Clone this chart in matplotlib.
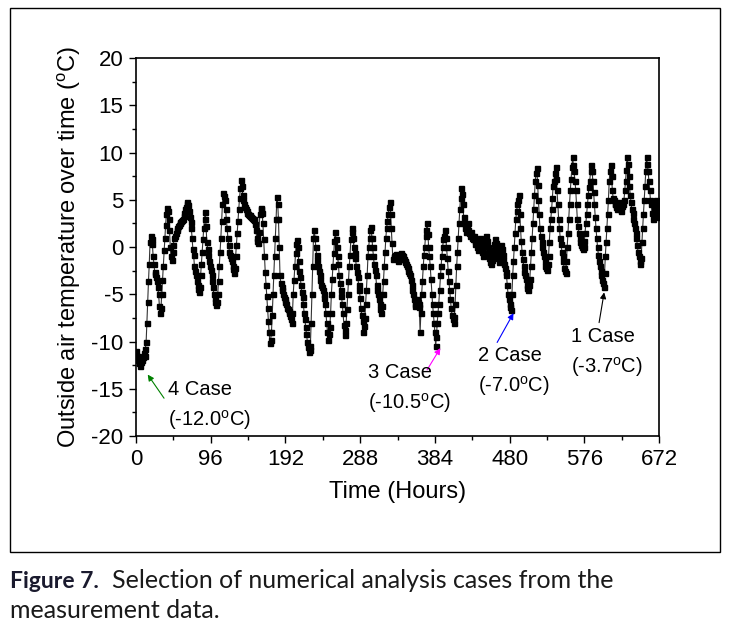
import matplotlib
matplotlib.use("Agg")
import matplotlib.pyplot as plt
from matplotlib.patches import Rectangle
from matplotlib.ticker import MultipleLocator

plt.rcParams['font.family'] = ['Liberation Sans', 'DejaVu Sans']
plt.rcParams['mathtext.default'] = 'regular'
plt.rcParams['axes.unicode_minus'] = False

# hourly outside air temperature (degC), one row per day
day00 = [-11.0, -11.6, -12.0, -11.5, -12.3, -12.6, -12.2, -11.8, -12.0, -11.6, -11.2, -11.5,
         -10.8, -10.0, -8.0, -5.8, -3.6, -1.8, 0.5, 1.2, 0.9, 0.3, -1.0, -1.8]
day01 = [-2.6, -2.9, -3.2, -3.6, -4.2, -5.0, -6.2, -7.0, -6.5, -5.0, -3.5, -2.0,
         -0.3, 1.0, 2.3, 3.5, 4.1, 3.8, 3.0, 1.8, 0.0, -1.0, -1.4, -0.5]
day02 = [0.2, 1.0, 1.2, 1.5, 1.8, 2.0, 2.2, 2.3, 2.5, 2.6, 2.8, 2.9,
         3.0, 3.3, 3.6, 4.0, 4.2, 4.5, 4.8, 4.4, 3.8, 3.2, 2.6, 2.0]
day03 = [1.0, -0.2, -0.8, -2.0, -2.5, -3.0, -3.6, -4.0, -4.4, -4.8, -4.2, -3.0,
         -1.8, -0.5, 0.8, 2.0, 3.0, 3.7, 2.2, 0.5, -0.2, -0.8, -1.5, -2.0]
day04 = [-2.4, -3.0, -3.6, -4.2, -5.0, -5.4, -5.8, -6.1, -5.8, -5.0, -3.6, -2.0,
         -0.5, 1.0, 2.8, 4.5, 5.7, 5.4, 5.0, 4.0, 3.0, 2.0, 1.0, 0.2]
day05 = [-0.5, -0.8, -1.2, -1.5, -2.0, -2.3, -2.8, -2.2, -1.0, 0.2, 1.5, 2.8,
         4.0, 5.2, 6.2, 7.1, 6.5, 5.5, 5.0, 4.6, 4.2, 4.0, 3.8, 3.6]
day06 = [3.5, 3.4, 3.4, 3.3, 3.2, 3.1, 3.0, 3.0, 2.9, 2.4, 1.8, 1.0,
         0.6, 0.4, 1.6, 3.5, 4.0, 4.1, 3.6, 2.5, 0.8, -1.0, -2.6, -4.0]
day07 = [-5.2, -6.5, -7.8, -9.0, -10.2, -9.8, -9.0, -7.2, -5.0, -3.0, -1.0, 1.0,
         3.0, 5.3, 4.6, 3.0, 0.0, -3.0, -3.8, -4.2, -4.5, -5.0, -5.3, -5.5]
day08 = [-5.8, -6.0, -6.5, -6.6, -6.8, -7.0, -7.3, -7.6, -8.0, -7.0, -5.0, -3.5,
         -2.0, -0.6, 0.3, 0.7, 0.0, -1.5, -2.5, -3.2, -4.0, -4.8, -5.3, -6.0]
day09 = [-7.0, -7.6, -8.5, -9.2, -10.0, -10.6, -11.1, -10.9, -10.5, -8.0, -5.0, -2.0,
         1.0, 1.8, 1.0, 0.0, -0.8, -1.4, -2.0, -2.5, -3.0, -3.5, -4.0, -4.2]
day10 = [-4.5, -5.0, -5.4, -6.0, -7.0, -8.0, -9.0, -9.8, -9.2, -8.5, -7.0, -5.0,
         -3.4, -2.0, -0.6, 0.6, 1.6, 0.8, 0.0, -1.0, -1.8, -3.0, -3.8, -4.5]
day11 = [-5.2, -6.0, -7.0, -8.2, -9.3, -8.8, -8.0, -6.6, -5.0, -3.6, -2.0, -0.8,
         0.8, 1.6, 2.0, 1.0, 0.0, -0.6, -1.2, -2.0, -2.6, -3.2, -4.0, -4.6]
day12 = [-5.4, -6.5, -7.2, -7.8, -9.0, -8.4, -7.5, -6.0, -4.5, -3.0, -1.0, 0.0,
         1.0, 1.8, 2.1, 1.0, 0.0, -1.0, -1.8, -2.4, -3.0, -4.0, -4.5, -5.0]
day13 = [-5.5, -6.0, -6.6, -7.0, -6.2, -5.0, -3.6, -2.0, -0.5, 1.0, 2.0, 2.8,
         3.5, 4.2, 4.8, 3.5, 2.0, 0.4, -1.3, -1.1, -1.0, -0.8, -0.7, -1.0]
day14 = [-1.2, -1.5, -1.3, -1.0, -0.8, -0.6, -0.8, -1.0, -1.3, -1.5, -1.6, -1.8,
         -2.0, -2.2, -2.5, -2.8, -3.0, -3.5, -4.0, -4.5, -5.0, -5.5, -6.0, -6.2]
day15 = [-6.0, -5.5, -5.8, -6.0, -6.3, -9.0, -7.0, -5.0, -3.6, -2.0, -0.8, 0.0,
         1.2, 1.8, 2.5, 1.4, 0.0, -1.0, -2.0, -3.4, -5.0, -6.0, -7.0, -8.0]
day16 = [-9.0, -10.5, -9.5, -8.0, -7.0, -6.0, -4.6, -3.0, -2.0, -1.0, 0.0, 0.8,
         1.2, 1.8, 1.0, 0.0, -1.2, -2.5, -3.6, -4.5, -5.5, -6.5, -7.2, -7.6]
day17 = [-8.0, -7.4, -6.0, -4.0, -2.0, -0.5, 1.0, 2.5, 4.0, 5.2, 6.2, 5.6,
         4.5, 3.2, 2.5, 2.0, 1.6, 2.2, 2.5, 1.8, 1.5, 1.2, 1.6, 1.3]
day18 = [1.0, 0.8, 1.2, 0.6, 0.3, 0.5, 0.0, -0.3, 0.2, 0.6, 1.0, 0.5,
         0.0, -0.5, -1.0, -0.6, 0.2, 0.8, 1.2, 0.6, 0.0, -0.6, -1.2, -1.6]
day19 = [-1.8, -1.4, -0.8, -0.3, 0.3, 0.8, 0.4, -0.2, -0.8, -1.2, -1.6, -1.0,
         -0.4, 0.2, -0.2, -0.8, -1.4, -1.8, -2.2, -2.6, -3.0, -4.0, -5.0, -5.5]
day20 = [-6.0, -6.4, -6.7, -5.0, -3.0, -1.5, 0.0, 1.5, 3.0, 3.8, 4.5, 5.0,
         5.5, 3.5, 2.0, 0.6, -0.5, -1.3, -2.0, -2.6, -3.0, -3.4, -4.0, -4.3]
day21 = [-4.5, -4.0, -3.4, -2.0, -0.5, 1.0, 2.5, 4.0, 5.5, 7.0, 7.8, 8.4,
         6.6, 5.0, 3.5, 2.0, 1.2, 0.5, 0.0, -0.5, -1.0, -1.5, -2.0, -2.2]
day22 = [-2.4, -1.8, -1.0, 0.5, 2.0, 3.0, 4.0, 5.2, 6.5, 7.0, 7.8, 8.5,
         7.2, 6.0, 4.5, 3.0, 2.0, 1.0, 0.3, -0.5, -1.0, -1.5, -2.2, -2.5]
day23 = [-2.8, -1.5, 0.0, 1.5, 3.0, 4.5, 6.0, 7.2, 8.5, 9.5, 8.7, 8.0,
         7.0, 6.0, 4.5, 3.0, 2.2, 1.5, 1.0, 0.5, 0.2, 0.0, -0.2, 0.0]
day24 = [0.6, 1.5, 2.5, 3.5, 4.5, 5.5, 6.4, 7.0, 8.0, 8.7, 8.0, 7.0,
         5.8, 4.5, 3.2, 2.0, 1.0, 0.0, -0.8, -1.5, -2.0, -2.5, -3.0, -3.5]
day25 = [-3.8, -4.2, -2.8, -1.0, 0.5, 2.0, 3.5, 5.0, 7.0, 8.0, 8.7, 7.5,
         6.0, 5.2, 5.0, 4.6, 4.5, 4.2, 4.0, 4.5, 4.8, 4.2, 4.0, 3.8]
day26 = [4.3, 4.6, 4.5, 5.0, 6.0, 7.0, 8.2, 9.5, 8.8, 7.5, 6.5, 5.5,
         4.8, 4.0, 3.6, 3.0, 2.5, 2.0, 1.5, 1.0, 0.2, -0.5, -1.0, -1.5]
day27 = [-1.8, -1.2, 0.5, 2.0, 3.5, 5.0, 6.5, 8.0, 9.5, 8.8, 8.0, 7.0,
         6.0, 5.0, 4.5, 3.6, 3.0, 3.5, 4.0, 4.6, 5.0, 4.6, 4.0, 3.5]
last_hour = [3.2]

days = [day00, day01, day02, day03, day04, day05, day06, day07, day08, day09,
        day10, day11, day12, day13, day14, day15, day16, day17, day18, day19,
        day20, day21, day22, day23, day24, day25, day26, day27, last_hour]
temps = [t for d in days for t in d]
hours = list(range(len(temps)))

# selected cases: label lines, arrow tail and head (hours, degC)
case_name = ["4 Case", "3 Case", "2 Case", "1 Case"]
case_value = ["(-12.0$^{o}$C)", "(-10.5$^{o}$C)", "(-7.0$^{o}$C)", "(-3.7$^{o}$C)"]
case_label_at = [(41, -15.1), (298, -13.3), (440, -11.5), (559, -9.5)]
case_tail = [(36, -16.0), (374, -13.0), (464, -10.1), (595, -8.0)]
case_head = [(15, -13.5), (391, -10.7), (485, -7.0), (601.5, -4.8)]
case_color = ['green', 'magenta', 'blue', 'black']

fig = plt.figure(figsize=(7.29, 6.26), dpi=100)
ax = fig.add_axes([0.1866, 0.3035, 0.7174, 0.6038])

ax.plot(hours, temps, color='#333333', lw=0.8, marker='s', ms=3.6,
        mfc='black', mec='black')

for name, val, (lx, ly), tail, head, c in zip(case_name, case_value, case_label_at,
                                              case_tail, case_head, case_color):
    ax.annotate("", xy=head, xytext=tail,
                arrowprops=dict(arrowstyle='-|>', color=c, lw=0.8, mutation_scale=9,
                                shrinkA=0, shrinkB=0))
    ax.text(lx, ly, name, fontsize=14.5, ha='left', va='center')
    ax.text(lx, ly - 3.2, val, fontsize=14.5, ha='left', va='center')

ax.set_xlim(0, 672)
ax.set_ylim(-20, 20)
ax.set_xticks(range(0, 673, 96))
ax.xaxis.set_minor_locator(MultipleLocator(48))
ax.yaxis.set_major_locator(MultipleLocator(5))
ax.yaxis.set_minor_locator(MultipleLocator(2.5))
ax.tick_params(axis='both', which='major', direction='out', length=5, width=1,
               labelsize=16, pad=4, top=False, right=False)
ax.tick_params(axis='both', which='minor', direction='out', length=3, width=1,
               top=False, right=False)
for sp in ax.spines.values():
    sp.set_linewidth(1.2)

ax.set_xlabel("Time (Hours)", fontsize=17, labelpad=8)
ax.set_ylabel("Outside air temperature over time ($^{o}$C)", fontsize=17, labelpad=6)

# frame around the figure panel
fig.patches.append(Rectangle((10 / 729, 1 - 552 / 626), 710 / 729, 544 / 626,
                             transform=fig.transFigure, fill=False, lw=1, ec='black'))

fig.text(10 / 729, 1 - 581 / 626, "Figure 7.", fontsize=16.5, fontweight='bold',
         family=['Lato', 'DejaVu Sans'], color='#1a1a2e', va='center')
fig.text(112 / 729, 1 - 581 / 626, "Selection of numerical analysis cases from the",
         fontsize=18, family=['Lato', 'DejaVu Sans'], color='#1a1a1a', va='center')
fig.text(10 / 729, 1 - 610 / 626, "measurement data.",
         fontsize=18, family=['Lato', 'DejaVu Sans'], color='#1a1a1a', va='center')

fig.savefig("out.png", dpi=100)
